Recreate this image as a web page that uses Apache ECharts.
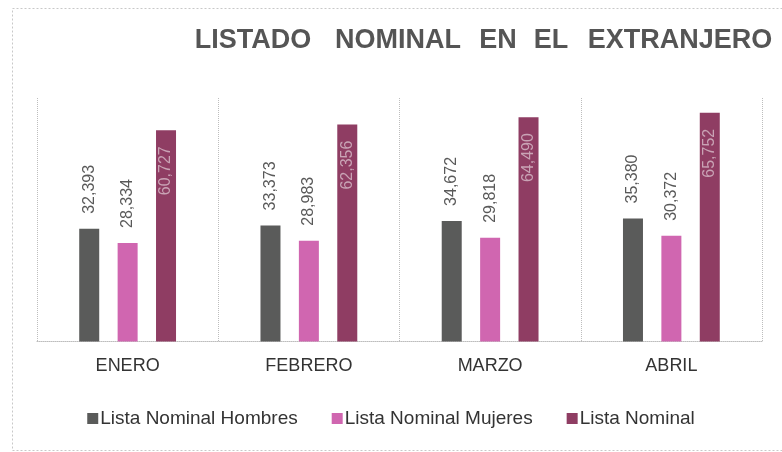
<!DOCTYPE html>
<html>
<head>
<meta charset="utf-8">
<script src="https://cdn.jsdelivr.net/npm/echarts@6/dist/echarts.min.js"></script>
<style>
html,body{margin:0;padding:0;background:#fff;}
#chart{width:782px;height:452px;}
</style>
</head>
<body>
<div id="chart"></div>
<script>
var categories = ['ENERO', 'FEBRERO', 'MARZO', 'ABRIL'];
var hombres = [32393, 33373, 34672, 35380];
var mujeres = [28334, 28983, 29818, 30372];
var listaNominal = [60727, 62356, 64490, 65752];
var seriesNames = ['Lista Nominal Hombres', 'Lista Nominal Mujeres', 'Lista Nominal'];
var titleWords = ['LISTADO', 'NOMINAL', 'EN', 'EL', 'EXTRANJERO'];
var titleWordCenters = [253, 398, 498, 551, 680];

function fmt(p) { return p.value.toLocaleString('en-US'); }

var chart = echarts.init(document.getElementById('chart'), null, {renderer: 'canvas'});

var graphics = [{
  type: 'rect', left: 10, top: 6, silent: true,
  shape: {width: 800, height: 442},
  style: {fill: 'none', stroke: '#c8c8c8', lineWidth: 1, lineDash: [2, 2]}
}];
titleWords.forEach(function (w, i) {
  graphics.push({
    type: 'text', x: titleWordCenters[i], y: 41,
    style: {text: w, fill: '#555555', font: 'bold 27px "Liberation Sans", Arial, sans-serif',
            textAlign: 'center', textVerticalAlign: 'middle'}
  });
});

var topLabel = {
  show: true, position: 'top', rotate: 90, align: 'left', verticalAlign: 'middle',
  distance: 15, color: '#595959', fontSize: 16, fontFamily: '"Liberation Sans", Arial, sans-serif',
  formatter: fmt
};

chart.setOption({
  backgroundColor: '#ffffff',
  animation: false,
  graphic: graphics,
  legend: {
    data: seriesNames,
    left: 'center', top: 404,
    itemWidth: 11, itemHeight: 11, itemGap: 34,
    icon: 'rect',
    textStyle: {fontSize: 19, color: '#333333', fontFamily: '"Liberation Sans", Arial, sans-serif', padding: [0, 0, 0, -3]}
  },
  grid: {left: 37, right: 20, top: 98, bottom: 110.5},
  xAxis: {
    type: 'category', data: categories,
    axisLine: {show: true, lineStyle: {color: '#bdbdbd', type: 'dotted', width: 1}},
    axisTick: {show: false},
    splitLine: {show: true, lineStyle: {color: '#bdbdbd', type: 'dotted', width: 1}},
    axisLabel: {fontSize: 18, color: '#333333', margin: 16, fontFamily: '"Liberation Sans", Arial, sans-serif'}
  },
  yAxis: {
    type: 'value', min: 0, max: 70000, show: false,
    splitLine: {show: false}
  },
  series: [
    {name: seriesNames[0], type: 'bar', data: hombres, barWidth: 20, barGap: '92%',
     itemStyle: {color: '#5a5b5a'}, label: topLabel},
    {name: seriesNames[1], type: 'bar', data: mujeres, barWidth: 20, barGap: '92%',
     itemStyle: {color: '#d066b0'}, label: topLabel},
    {name: seriesNames[2], type: 'bar', data: listaNominal, barWidth: 20, barGap: '92%',
     itemStyle: {color: '#8f3d63'},
     label: {show: true, position: 'insideTop', rotate: 90, align: 'right', verticalAlign: 'middle',
             distance: 16, color: '#c9a3b5', fontSize: 16, fontFamily: '"Liberation Sans", Arial, sans-serif',
             formatter: fmt}}
  ]
});
</script>
</body>
</html>
